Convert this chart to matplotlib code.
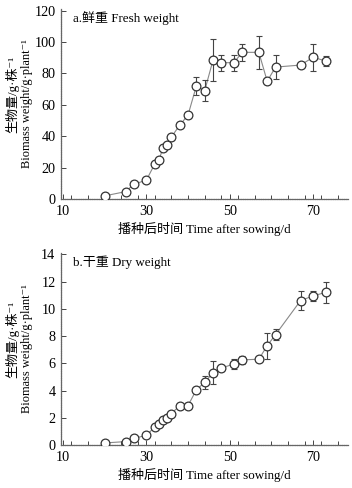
import matplotlib
matplotlib.use("Agg")
import matplotlib.pyplot as plt
from matplotlib.ticker import MultipleLocator, FixedLocator

plt.rcParams['font.family'] = ['Liberation Serif', 'Noto Sans CJK SC', 'DejaVu Serif']
plt.rcParams['axes.unicode_minus'] = False

days = [20, 25, 27, 30, 32, 33, 34, 35, 36, 38, 40, 42, 44, 46, 48, 51, 53, 57, 59, 61, 67, 70, 73]
fresh = [2, 4.7, 9.4, 12, 22.3, 25, 32.3, 34.4, 39.5, 47, 53.5, 72, 69, 88.5, 86.8, 86.8, 93.4, 93.4, 75, 84, 85.3, 90.2, 88]
fresh_err = [0.5, 0.5, 0.5, 1, 1, 1, 1, 1, 0.8, 1, 1, 5.5, 6.5, 13.5, 5, 5, 5.5, 10.5, 2, 7.5, 1.5, 8.5, 3]
dry = [0.15, 0.25, 0.5, 0.7, 1.33, 1.55, 1.8, 2.0, 2.3, 2.9, 2.9, 4.05, 4.6, 5.3, 5.65, 5.95, 6.25, 6.3, 7.3, 8.1, 10.6, 10.95, 11.2]
dry_err = [0.05, 0.1, 0.1, 0.1, 0.1, 0.1, 0.2, 0.2, 0.1, 0.1, 0.1, 0.15, 0.5, 0.85, 0.2, 0.4, 0.3, 0.1, 0.95, 0.4, 0.7, 0.35, 0.8]

x_labels = [10, 30, 50, 70]
fresh_ticks = [0, 20, 40, 60, 80, 100, 120]
dry_ticks = [0, 2, 4, 6, 8, 10, 12, 14]

panel_a = 'a.鲜重 Fresh weight'
panel_b = 'b.干重 Dry weight'
xlabel = '播种后时间 Time after sowing/d'
ylabel_cn = '生物量/g·株⁻¹'
ylabel_en = 'Biomass weight/g·plant⁻¹'

fig = plt.figure(figsize=(3.52, 4.88), dpi=100)
W, H = 352, 488

def make_axes(top_px, bot_px):
    left = 61 / W
    right = 348 / W
    return fig.add_axes([left, 1 - bot_px / H, right - left, (bot_px - top_px) / H])

ax1 = make_axes(9, 199)
ax2 = make_axes(253, 445)

fs = 9.4
tfs = 10.2
for ax, y, err, ticks, ymax, label in [(ax1, fresh, fresh_err, fresh_ticks, 121, panel_a),
                                       (ax2, dry, dry_err, dry_ticks, 14.1, panel_b)]:
    ax.plot(days, y, color='#888888', lw=0.8, zorder=1)
    ax.errorbar(days, y, yerr=err, fmt='none', ecolor='#444444', elinewidth=0.8,
                capsize=2.2, capthick=0.8, zorder=2)
    ax.plot(days, y, linestyle='none', marker='o', markersize=6.3,
            markerfacecolor='white', markeredgecolor='#333333', markeredgewidth=0.9, zorder=3)
    ax.set_xlim(9.5, 78.4)
    ax.set_ylim(0, ymax)
    for s in ['top', 'right']:
        ax.spines[s].set_visible(False)
    for s in ['left', 'bottom']:
        ax.spines[s].set_color('#666666')
        ax.spines[s].set_linewidth(0.9)
        ax.spines[s].set_linestyle((0, (1.2, 0.6)))
    ax.xaxis.set_major_locator(FixedLocator(x_labels))
    ax.xaxis.set_minor_locator(MultipleLocator(4))
    ax.yaxis.set_major_locator(FixedLocator(ticks))
    ax.tick_params(which='major', direction='in', length=3.5, width=0.7, color='#444444',
                   labelsize=tfs, pad=4)
    ax.tick_params(which='minor', direction='in', length=3, width=0.7, color='#444444')
    ax.text(0.042, 0.95, label, transform=ax.transAxes, fontsize=fs, va='center', ha='left')
    ax.set_xlabel(xlabel, fontsize=fs, labelpad=3)

# y labels (two lines each panel)
for top_px, bot_px in [(9, 199), (253, 445)]:
    cy = 1 - ((top_px + bot_px) / 2) / H
    fig.text(12 / W, cy + 10 / H, ylabel_cn, rotation=90, fontsize=fs, ha='center', va='center')
    fig.text(27 / W, cy, ylabel_en, rotation=90, fontsize=8.9, ha='center', va='center')

fig.savefig('out.png', dpi=100)
